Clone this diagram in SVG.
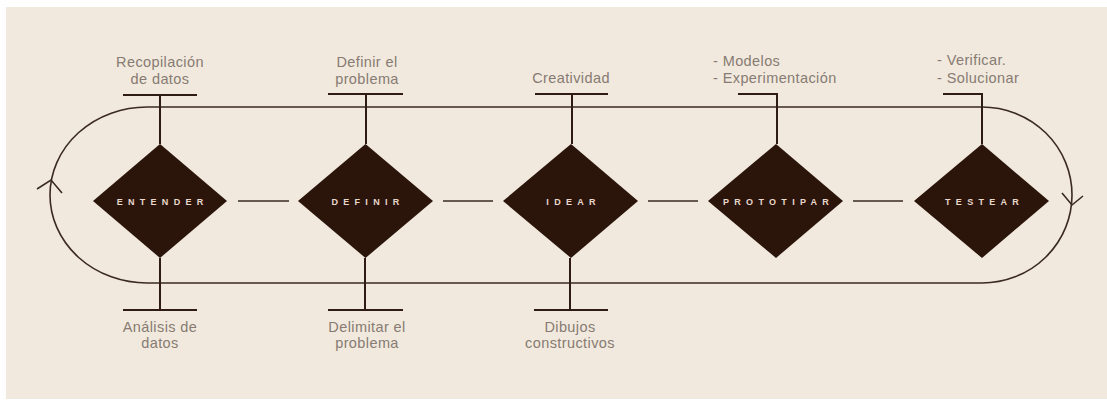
<svg xmlns="http://www.w3.org/2000/svg" width="1107" height="401" viewBox="0 0 1107 401">
  <style>
    .bg { fill: #f1e9dd; }
    .ln { fill: none; stroke: #3a2a22; stroke-width: 1.6; }
    .stem { fill: none; stroke: #2e1c14; stroke-width: 2; }
    .dia { fill: #2b140a; }
    .dlabel { font-family: "Liberation Sans", Arial, sans-serif; font-size: 9px; font-weight: bold; letter-spacing: 5.3px; fill: #e9d8cc; text-anchor: middle; }
    .note { font-family: "Liberation Sans", Arial, sans-serif; font-size: 14.5px; letter-spacing: 0.4px; fill: #877b73; }
    .c { text-anchor: middle; }
  </style>

  <rect class="bg" x="6" y="7" width="1101" height="392"/>

  <!-- cycle loop and the short links between stages -->
  <g id="connectors">
    <path class="ln" d="M147,107 H982 A90,88 0 0 1 982,283 H147 A97,88 0 0 1 147,107"/>
    <polyline class="ln" points="37,189 51,180 62,193"/>
    <polyline class="ln" points="1062,193 1072,205 1083,196"/>
    <line class="ln" x1="238" y1="201" x2="289" y2="201"/>
    <line class="ln" x1="443" y1="201" x2="493" y2="201"/>
    <line class="ln" x1="648" y1="201" x2="698" y2="201"/>
    <line class="ln" x1="853" y1="201" x2="903" y2="201"/>
  </g>

  <g id="entender">
    <path class="stem" d="M160,144 V95 M123,95 H197 M160,258 V310 M123,310 H197"/>
    <polygon class="dia" points="160,144 227,201 160,258 93,201"/>
    <text class="dlabel" x="162.6" y="205">ENTENDER</text>
    <text class="note c" x="160" y="67">Recopilación</text>
    <text class="note c" x="160" y="84">de datos</text>
    <text class="note c" x="160" y="332">Análisis de</text>
    <text class="note c" x="160" y="348">datos</text>
  </g>

  <g id="definir">
    <path class="stem" d="M366,144 V94 M328,94 H403 M365,258 V310 M328,310 H403"/>
    <polygon class="dia" points="365.5,144 433,201 365.5,258 298,201"/>
    <text class="dlabel" x="368" y="205">DEFINIR</text>
    <text class="note c" x="367" y="67">Definir el</text>
    <text class="note c" x="367" y="84">problema</text>
    <text class="note c" x="367" y="332">Delimitar el</text>
    <text class="note c" x="367" y="348">problema</text>
  </g>

  <g id="idear">
    <path class="stem" d="M572,144 V94 M535,94 H608 M570,258 V310 M534,310 H608"/>
    <polygon class="dia" points="571,144 638,201 571,258 503,201"/>
    <text class="dlabel" x="573.6" y="205">IDEAR</text>
    <text class="note c" x="571" y="83">Creatividad</text>
    <text class="note c" x="570" y="332">Dibujos</text>
    <text class="note c" x="570" y="348">constructivos</text>
  </g>

  <g id="prototipar">
    <path class="stem" d="M777,144 V94 H738"/>
    <polygon class="dia" points="776,144 843,201 776,258 708,201"/>
    <text class="dlabel" x="778.6" y="205">PROTOTIPAR</text>
    <text class="note" x="713" y="66">- Modelos</text>
    <text class="note" x="713" y="83">- Experimentación</text>
  </g>

  <g id="testear">
    <path class="stem" d="M982,144 V94 H943"/>
    <polygon class="dia" points="982,144 1049,201 982,258 914,201"/>
    <text class="dlabel" x="984.6" y="205">TESTEAR</text>
    <text class="note" x="937" y="65">- Verificar.</text>
    <text class="note" x="937" y="83">- Solucionar</text>
  </g>
</svg>
